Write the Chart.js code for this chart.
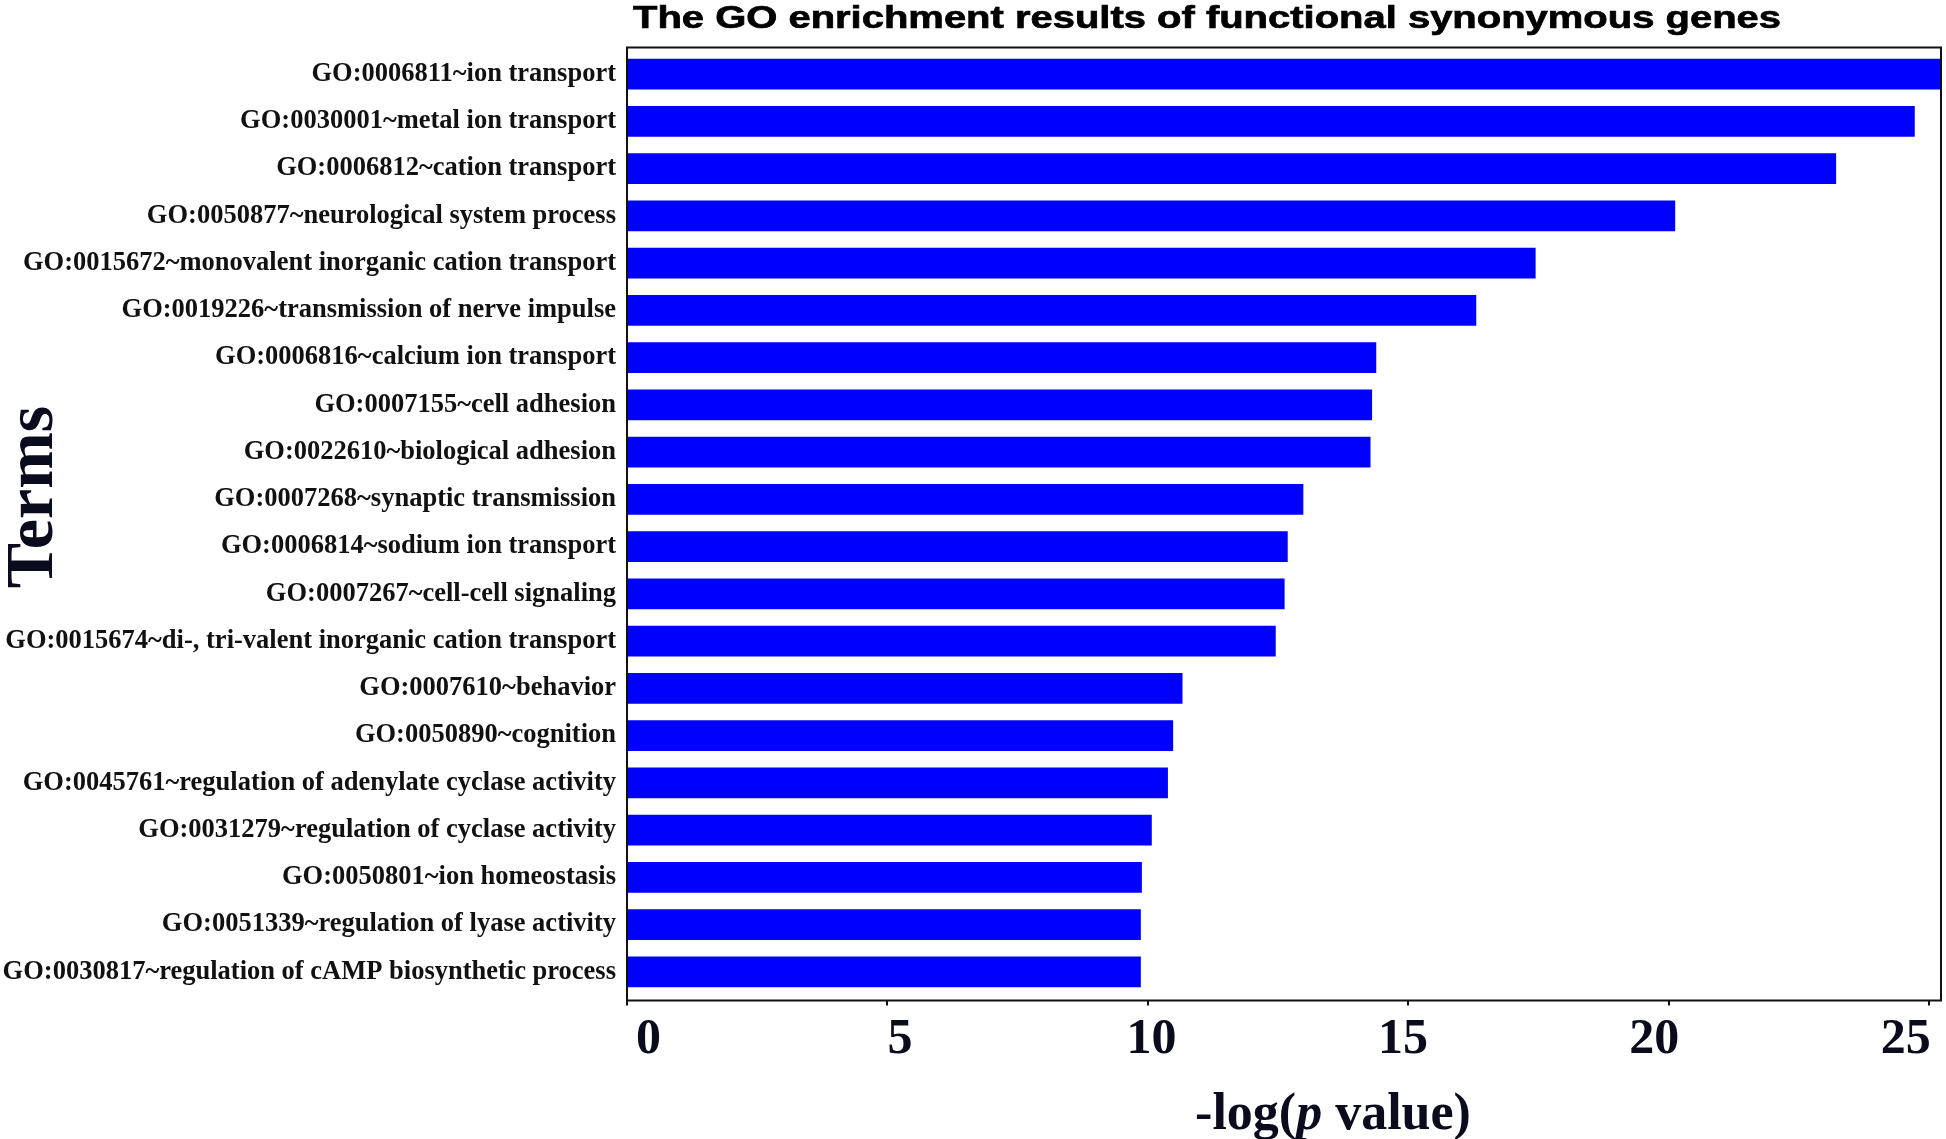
<!DOCTYPE html>
<html>
<head>
<meta charset="utf-8">
<title>GO enrichment results</title>
<script src="https://cdn.jsdelivr.net/npm/chart.js@4.4.0/dist/chart.umd.min.js"></script>
<style>
  html, body { margin: 0; padding: 0; background: #fff; }
  canvas { display: block; }
</style>
</head>
<body>
<canvas id="goChart" width="1946" height="1139"></canvas>
<script>
// GO terms, top to bottom
const terms = [
    "GO:0006811~ion transport",
    "GO:0030001~metal ion transport",
    "GO:0006812~cation transport",
    "GO:0050877~neurological system process",
    "GO:0015672~monovalent inorganic cation transport",
    "GO:0019226~transmission of nerve impulse",
    "GO:0006816~calcium ion transport",
    "GO:0007155~cell adhesion",
    "GO:0022610~biological adhesion",
    "GO:0007268~synaptic transmission",
    "GO:0006814~sodium ion transport",
    "GO:0007267~cell-cell signaling",
    "GO:0015674~di-, tri-valent inorganic cation transport",
    "GO:0007610~behavior",
    "GO:0050890~cognition",
    "GO:0045761~regulation of adenylate cyclase activity",
    "GO:0031279~regulation of cyclase activity",
    "GO:0050801~ion homeostasis",
    "GO:0051339~regulation of lyase activity",
    "GO:0030817~regulation of cAMP biosynthetic process"
];

// -log(p value)
const logP = [
    25.3, 24.72, 23.21, 20.12, 17.44, 16.30, 14.38, 14.30, 14.27, 12.98,
    12.68, 12.62, 12.45, 10.66, 10.48, 10.38, 10.07, 9.88, 9.86, 9.86
];

const xTicks = [0, 5, 10, 15, 20, 25];
const xMax = 25.23;

const titleText = "The GO enrichment results of functional synonymous genes";
const serif = "'Liberation Serif', 'Times New Roman', serif";
const sans = "'Liberation Sans', Arial, sans-serif";

// frame, tick marks, title and axis titles
const decorPlugin = {
    id: 'decor',
    afterDraw(chart) {
        const { ctx, chartArea: a } = chart;
        const x = chart.scales.x;
        const top = a.top - 3, bottom = a.bottom + 5;
        ctx.save();

        ctx.strokeStyle = '#111';
        ctx.lineWidth = 2;
        ctx.strokeRect(a.left, top, a.right - a.left, bottom - top);

        ctx.beginPath();
        xTicks.forEach(v => {
            const px = Math.round(x.getPixelForValue(v));
            ctx.moveTo(px, bottom);
            ctx.lineTo(px, bottom + 5);
        });
        ctx.stroke();

        // title, stretched like the original
        ctx.fillStyle = '#000';
        ctx.strokeStyle = '#000';
        ctx.textBaseline = 'alphabetic';
        ctx.textAlign = 'left';
        ctx.font = `bold 32px ${sans}`;
        const tw = ctx.measureText(titleText).width;
        ctx.save();
        ctx.translate(a.left + 6, 28);
        ctx.scale(1148 / tw, 1);
        ctx.lineWidth = 0.7;
        ctx.fillText(titleText, 0, 0);
        ctx.strokeText(titleText, 0, 0);
        ctx.restore();

        // x title with italic p
        ctx.fillStyle = '#0b0b1e';
        const parts = [
            { t: "-log(", f: `bold 52px ${serif}` },
            { t: "p", f: `italic bold 52px ${serif}` },
            { t: " value)", f: `bold 52px ${serif}` }
        ];
        let total = 0;
        parts.forEach(p => { ctx.font = p.f; p.w = ctx.measureText(p.t).width; total += p.w; });
        let cx = (a.left + a.right) / 2 + 49 - total / 2;
        parts.forEach(p => {
            ctx.font = p.f;
            ctx.fillText(p.t, cx, 1129);
            cx += p.w;
        });

        // y title
        ctx.save();
        ctx.translate(52, 497);
        ctx.rotate(-Math.PI / 2);
        ctx.textAlign = 'center';
        ctx.font = `bold 68px ${serif}`;
        ctx.fillText("Terms", 0, 0);
        ctx.restore();

        ctx.restore();
    }
};

new Chart(document.getElementById('goChart'), {
    type: 'bar',
    data: {
        labels: terms,
        datasets: [{
            data: logP,
            backgroundColor: '#0000ff',
            borderWidth: 0,
            barThickness: 30
        }]
    },
    options: {
        indexAxis: 'y',
        responsive: false,
        animation: false,
        layout: { padding: { top: 50.5, right: 5, left: 0, bottom: 0 } },
        plugins: {
            legend: { display: false },
            tooltip: { enabled: false }
        },
        scales: {
            x: {
                display: false,
                min: 0,
                max: xMax
            },
            // labels of the x axis sit a bit closer together than the ticks
            xl: {
                type: 'linear',
                position: 'bottom',
                min: -0.43,
                max: 25.7,
                grid: { display: false, drawTicks: false },
                border: { display: false },
                ticks: {
                    stepSize: 5,
                    includeBounds: false,
                    padding: 15,
                    color: '#0b0b1e',
                    font: { family: serif, size: 50, weight: 'bold' }
                },
                afterFit: s => { s.height = 143.5; }
            },
            y: {
                grid: { display: false, drawTicks: false },
                border: { display: false },
                ticks: {
                    padding: 11,
                    color: '#111',
                    font: { family: serif, size: 26.5, weight: 'bold' }
                },
                afterFit: s => { s.width = 627; }
            }
        }
    },
    plugins: [decorPlugin]
});
</script>
</body>
</html>
